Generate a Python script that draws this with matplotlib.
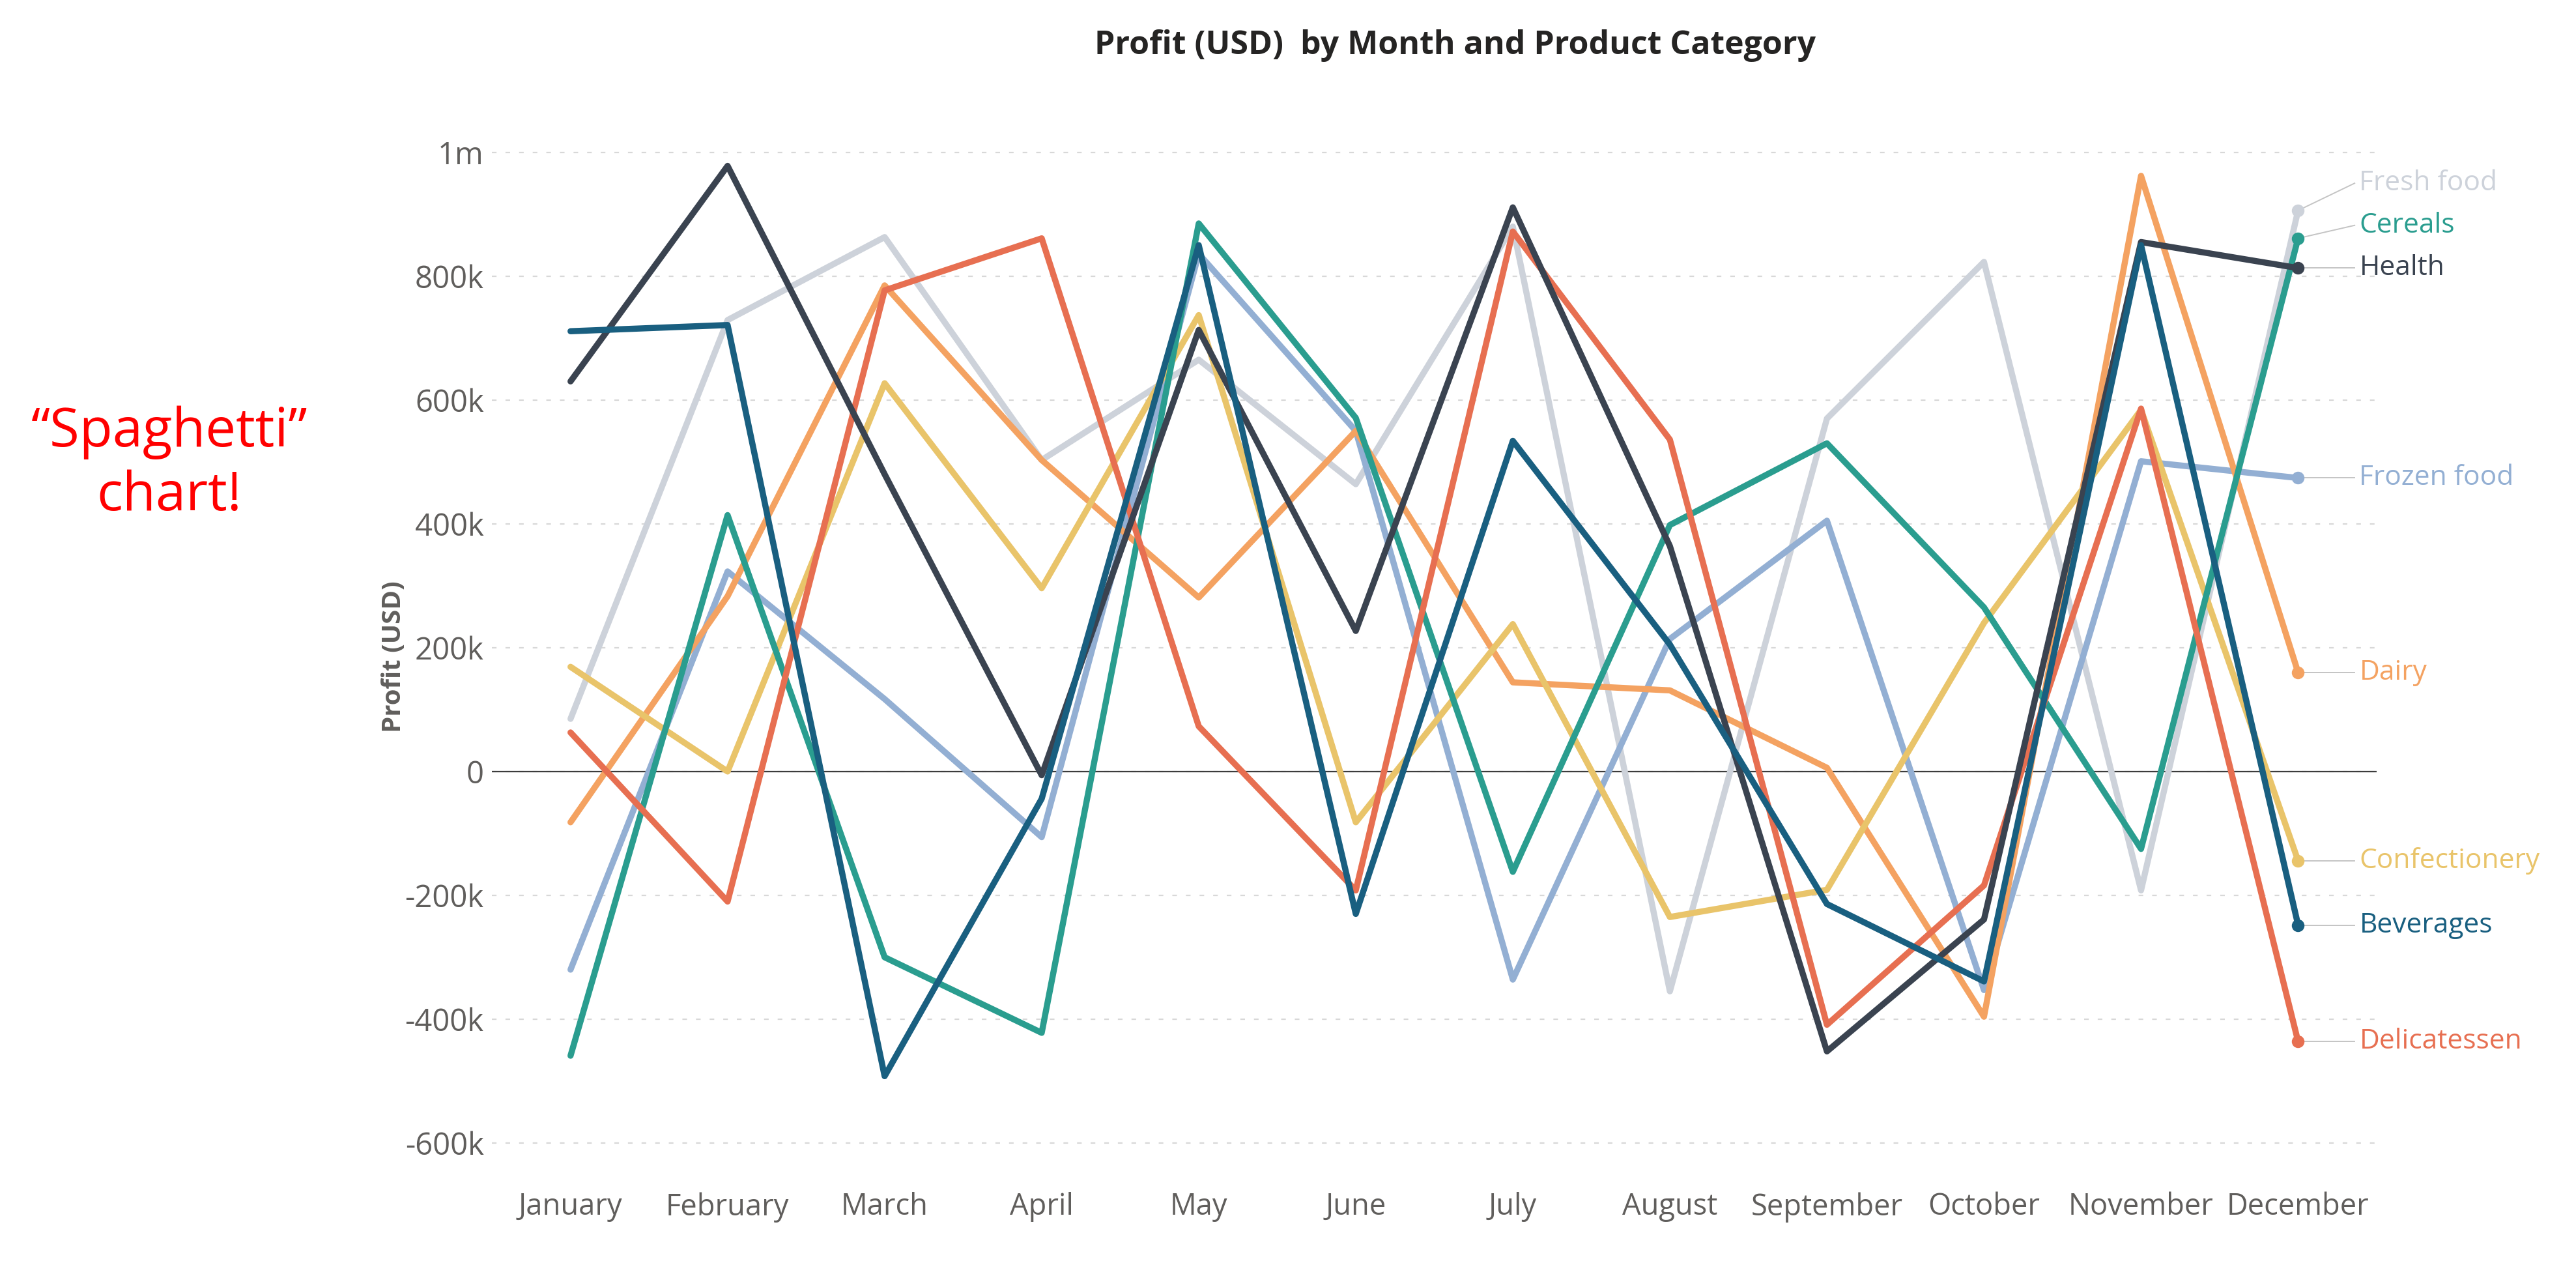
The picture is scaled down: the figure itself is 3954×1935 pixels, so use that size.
import matplotlib
matplotlib.use("Agg")
import matplotlib.pyplot as plt
from matplotlib.ticker import FuncFormatter

plt.rcParams['font.family'] = ['Open Sans', 'DejaVu Sans']

# Monatliche Gewinne in Tausend USD
months = ["January", "February", "March", "April", "May", "June",
          "July", "August", "September", "October", "November", "December"]

fresh_food = [85, 729, 863, 503, 665, 464, 880, -355, 570, 823, -192, 906]
cereals = [-459, 414, -300, -422, 885, 571, -162, 398, 530, 265, -125, 861]
health = [630, 978, 480, -6, 713, 227, 911, 364, -452, -239, 855, 813]
frozen_food = [-320, 323, 117, -106, 836, 550, -336, 214, 405, -353, 501, 474]
dairy = [-82, 283, 785, 503, 281, 550, 144, 131, 6, -396, 962, 160]
confectionery = [169, 0, 627, 296, 737, -82, 238, -235, -191, 240, 584, -144]
beverages = [711, 721, -492, -44, 850, -230, 534, 205, -214, -339, 850, -248]
delicatessen = [63, -210, 777, 861, 73, -192, 872, 536, -409, -184, 586, -436]

# (name, values, colour, label height in k)
series = [
    ("Fresh food", fresh_food, "#cdd2da", 950),
    ("Frozen food", frozen_food, "#93afd3", None),
    ("Dairy", dairy, "#f4a261", None),
    ("Confectionery", confectionery, "#e9c46a", None),
    ("Cereals", cereals, "#2a9d8f", 882),
    ("Delicatessen", delicatessen, "#e76f51", None),
    ("Health", health, "#3a4350", None),
    ("Beverages", beverages, "#195f80", None),
]

yticks = [-600, -400, -200, 0, 200, 400, 600, 800, 1000]

fig = plt.figure(figsize=(19.77, 9.675), dpi=200)
ax = fig.add_axes([0.191, 0.069, 0.7316, 0.8348])

x = list(range(len(months)))
for name, vals, col, lab_y in series:
    v = [a * 1000 for a in vals]
    ax.plot(x, v, color=col, lw=3.4, solid_joinstyle='round', solid_capstyle='round', zorder=3)
    ax.plot(x[-1], v[-1], 'o', color=col, ms=6, zorder=4)
    ty = (lab_y if lab_y is not None else vals[-1]) * 1000
    ax.plot([x[-1], 11.36], [v[-1], ty], color='#c4c4c4', lw=0.7, zorder=2, clip_on=False)
    ax.text(11.39, ty, name, color=col, fontsize=15.3, va='center', ha='left', clip_on=False)

ax.set_xlim(-0.5, 11.5)
ax.set_ylim(-650000, 1050000)
ax.set_xticks(x)
ax.set_xticklabels(months)
ax.set_yticks([t * 1000 for t in yticks])


def fmt(val, pos):
    if val == 0:
        return "0"
    if abs(val) >= 1000000:
        return f"{val / 1000000:g}m"
    return f"{val / 1000:g}k"


ax.yaxis.set_major_formatter(FuncFormatter(fmt))
ax.tick_params(axis='x', length=0, pad=10, labelsize=16.3, labelcolor='#605e5c')
ax.tick_params(axis='y', length=0, pad=4.5, labelsize=17, labelcolor='#605e5c')
for s in ax.spines.values():
    s.set_visible(False)

ax.grid(axis='y', color='#d8d8d8', linestyle=(0, (3.2, 6.2)), linewidth=0.8)
ax.axhline(0, color='#3c3c3c', lw=0.8, zorder=2)

fig.text(0.153, 1 - 1008 / 1935, "Profit (USD)", rotation=90, fontsize=14.5,
         fontweight='bold', color='#605e5c', ha='center', va='center')

fig.text(2234 / 3954, 1 - 70 / 1935, "Profit (USD)  by Month and Product Category",
         fontsize=18, fontweight='bold', color='#252423', ha='center', va='center')

fig.text(260 / 3954, 1 - 685 / 1935, "\u201cSpaghetti\u201d", fontsize=30,
         color='#ff0000', ha='center', va='baseline')
fig.text(260 / 3954, 1 - 783 / 1935, "chart!", fontsize=30,
         color='#ff0000', ha='center', va='baseline')

fig.savefig("out.png", dpi=200)
